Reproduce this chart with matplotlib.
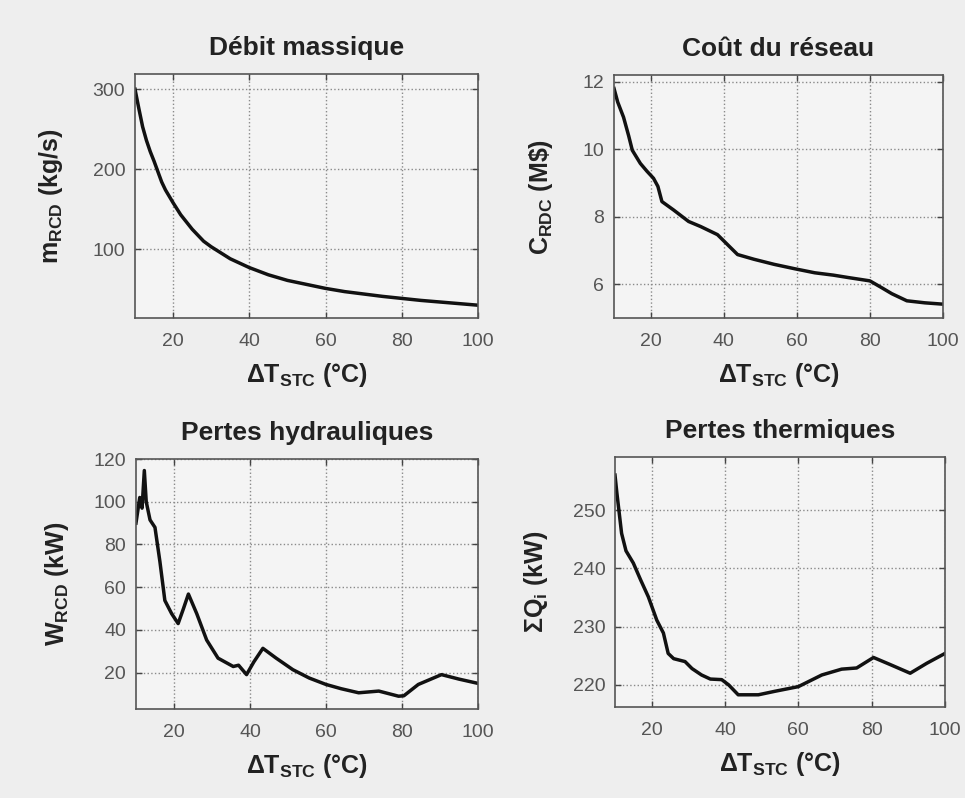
import matplotlib

matplotlib.use("Agg")
import matplotlib.pyplot as plt

plt.rcParams["font.family"] = ["Liberation Sans", "DejaVu Sans"]
plt.rcParams["mathtext.fontset"] = "custom"
plt.rcParams["mathtext.rm"] = "Liberation Sans:bold"
plt.rcParams["mathtext.it"] = "Liberation Sans:bold"
plt.rcParams["mathtext.bf"] = "Liberation Sans:bold"

# Débit massique du réseau (kg/s) vs ΔT_STC (°C)
dt_debit = [10, 11, 12, 13, 14, 15, 16, 17, 18, 19, 20, 22, 25, 28, 30, 35, 40,
            45, 50, 55, 60, 65, 70, 75, 80, 85, 90, 95, 100]
debit = [300, 276, 253, 236, 222, 210, 197, 184, 174, 166, 158, 143, 125, 110,
         103, 88, 77, 68, 61, 56, 51, 47, 44, 41, 38.5, 36, 34, 32, 30]

# Coût du réseau (M$)
dt_cout = [10, 11, 12.6, 14, 15, 17.2, 19, 20.8, 22, 23.1, 26.3, 30.4, 33.7,
           38.3, 41, 43.8, 48.3, 53.8, 59.4, 64.9, 70, 74, 80, 83.2, 86, 90.1,
           95, 100]
cout = [11.8, 11.4, 10.95, 10.4, 9.97, 9.58, 9.35, 9.14, 8.9, 8.45, 8.2, 7.86,
        7.71, 7.47, 7.18, 6.88, 6.74, 6.59, 6.46, 6.34, 6.27, 6.2, 6.1, 5.9,
        5.72, 5.51, 5.45, 5.41]

# Pertes hydrauliques (kW)
dt_hyd = [10, 11, 11.6, 12.2, 12.7, 13.7, 15, 16.3, 17.6, 19.4, 21.1, 22.5,
          23.8, 26, 28.6, 31.6, 35.6, 37, 39.1, 41, 43.4, 46.9, 51.3, 55.6, 60,
          64, 68.6, 73.9, 79.1, 80.5, 84.3, 90.4, 95, 100]
hyd = [90, 102, 97, 114.6, 100, 91.5, 88, 72, 53.8, 47.6, 43, 50, 56.8, 47.6,
       35.3, 26.8, 22.9, 23.5, 19.1, 25, 31.4, 26.8, 21.4, 17.5, 14.5, 12.5,
       10.6, 11.4, 9, 9.2, 14.5, 19.1, 17, 15]

# Pertes thermiques (kW)
dt_th = [10, 10.5, 11.8, 13, 15, 17, 19.1, 21.4, 23.2, 24.5, 26, 29.1, 31,
         33.6, 36, 39.1, 41, 43.6, 49.1, 53.6, 60, 66.4, 71.8, 75.9, 80.5, 85,
         90.5, 95, 100]
th = [256, 253, 246, 243, 240.9, 238, 235.1, 231.1, 228.9, 225.4, 224.5, 224,
      222.8, 221.7, 221, 220.9, 220, 218.3, 218.3, 218.9, 219.7, 221.7, 222.7,
      222.9, 224.7, 223.5, 222, 223.7, 225.4]

xlabel = "ΔT$_{\\mathregular{STC}}$ (°C)"

panels = [
    # (rect, x, y, title, ylabel, ylim, yticks, ylabel pad)
    ([0.1399, 0.6015, 0.3554, 0.3058], dt_debit, debit, "Débit massique",
     "m$_{\\mathregular{RCD}}$ (kg/s)", (14, 319), [100, 200, 300], 20),
    ([0.6363, 0.6015, 0.3409, 0.3045], dt_cout, cout, "Coût du réseau",
     "C$_{\\mathregular{RDC}}$ (M\\$)", (5.0, 12.2), [6, 8, 10, 12], 20),
    ([0.1409, 0.1115, 0.3544, 0.3133], dt_hyd, hyd, "Pertes hydrauliques",
     "W$_{\\mathregular{RCD}}$ (kW)", (3, 120), [20, 40, 60, 80, 100, 120], 16),
    ([0.6373, 0.1140, 0.3420, 0.3133], dt_th, th, "Pertes thermiques",
     "ΣQ$_{\\mathregular{i}}$ (kW)", (216.2, 259.1), [220, 230, 240, 250], 16),
]

fig = plt.figure(figsize=(9.65, 7.98), dpi=100, facecolor="#eeeeee")

for rect, x, y, title, ylab, ylim, yticks, ypad in panels:
    ax = fig.add_axes(rect, facecolor="#f4f4f4")
    ax.plot(x, y, color="#111111", lw=2.5)
    ax.set_xlim(10, 100)
    ax.set_ylim(*ylim)
    ax.set_xticks([20, 40, 60, 80, 100])
    ax.set_yticks(yticks)
    ax.grid(True, linestyle=":", color="#8a8a8a", lw=1.0)
    ax.tick_params(direction="in", top=True, right=True, length=4,
                   width=1, color="#444444", labelsize=14,
                   labelcolor="#555555")
    ax.tick_params(axis="x", pad=11)
    ax.tick_params(axis="y", pad=7)
    for sp in ax.spines.values():
        sp.set_color("#555555")
        sp.set_linewidth(1.2)
    ax.set_title(title, fontsize=19, fontweight="bold", color="#222222", pad=14)
    ax.set_xlabel(xlabel, fontsize=18, fontweight="bold", color="#222222",
                  labelpad=8)
    ax.set_ylabel(ylab, fontsize=18, fontweight="bold", color="#222222",
                  labelpad=ypad)

fig.savefig("out.png", dpi=100, facecolor=fig.get_facecolor())
